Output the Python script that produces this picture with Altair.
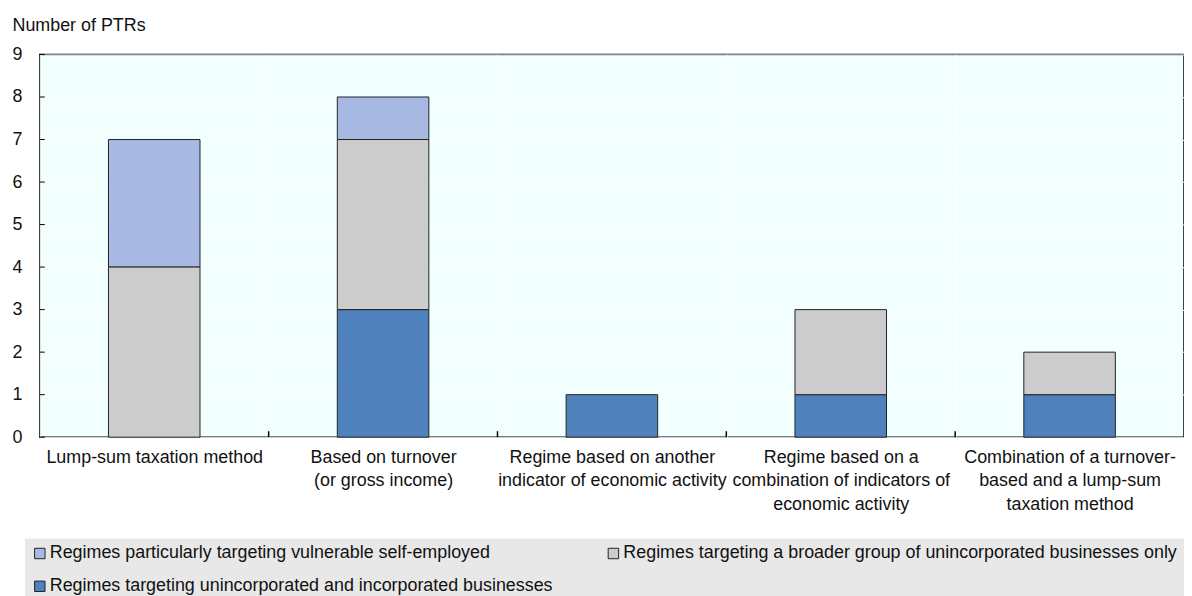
import altair as alt
import pandas as pd

categories = [
    "Lump-sum taxation method",
    "Based on turnover\n(or gross income)",
    "Regime based on another\nindicator of economic activity",
    "Regime based on a\ncombination of indicators of\neconomic activity",
    "Combination of a turnover-\nbased and a lump-sum\ntaxation method",
]
series = [
    "Regimes particularly targeting vulnerable self-employed",
    "Regimes targeting unincorporated and incorporated businesses",
    "Regimes targeting a broader group of unincorporated businesses only",
]
vulnerable = [3, 1, 0, 0, 0]
incorporated = [0, 3, 1, 1, 1]
broader = [4, 4, 0, 2, 1]
colors = ["#A7B9E3", "#4F81BD", "#CCCCCC"]
stack_rank = [2, 0, 1]
y_ticks = list(range(10))
boundaries = [1, 2, 3, 4]

FONT = "Liberation Sans, Arial, sans-serif"
FS = 18

rows = []
for s, vals, r in zip(series, [vulnerable, incorporated, broader], stack_rank):
    for c, v in zip(categories, vals):
        if v > 0:
            rows.append({"category": c, "series": s, "value": v, "rank": r})
df = pd.DataFrame(rows)

bars = alt.Chart(df).mark_bar(
    stroke="#222222", strokeWidth=1, width=alt.RelativeBandSize(0.4)
).encode(
    x=alt.X(
        "category:N",
        sort=categories,
        scale=alt.Scale(paddingInner=0, paddingOuter=0),
        axis=alt.Axis(
            title=None, labelAngle=0, labelExpr="split(datum.label, '\\n')",
            tickSize=0, domain=False, grid=True, tickBand="extent",
            gridColor="white", gridWidth=1, labelPadding=11,
            labelBaseline="top", labelLineHeight=24, labelLimit=0,
            labelOverlap=False,
            labelFont=FONT, labelFontSize=FS, labelColor="#111111",
        ),
    ),
    y=alt.Y(
        "value:Q",
        stack="zero",
        scale=alt.Scale(domain=[0, 9], nice=False),
        axis=alt.Axis(
            values=y_ticks, title="Number of PTRs", titleAngle=0,
            titleAlign="left", titleBaseline="bottom", titleX=-28, titleY=-20,
            titleFontWeight="normal", titleFontSize=FS, titleFont=FONT,
            titleColor="#111111",
            tickSize=0, domain=False, labelPadding=18, grid=True,
            gridColor="white", gridWidth=1,
            labelFont=FONT, labelFontSize=FS, labelColor="#111111",
        ),
    ),
    color=alt.Color(
        "series:N",
        scale=alt.Scale(domain=series, range=colors),
        legend=alt.Legend(
            title=None, orient="none", legendX=-15, legendY=487, columns=2,
            fillColor="#E8E8E8", padding=6, symbolType="square",
            symbolSize=110, symbolStrokeColor="#222222", symbolStrokeWidth=1,
            labelFontSize=FS, labelFont=FONT, labelColor="#111111",
            rowPadding=15, columnPadding=51, labelLimit=0, labelOffset=1,
        ),
    ),
    order=alt.Order("rank:Q", sort="ascending"),
)

yticks = alt.Chart(pd.DataFrame({"t": y_ticks})).mark_rule(
    color="black", strokeWidth=1
).encode(y="t:Q", x=alt.value(0), x2=alt.value(5))

xticks = alt.Chart(pd.DataFrame({"b": boundaries})).mark_rule(
    color="black", strokeWidth=1.5
).encode(
    x=alt.X("b:Q", scale=alt.Scale(domain=[0, 5], nice=False), axis=None),
    y=alt.value(385), y2=alt.value(379),
)

chart = alt.layer(bars, yticks, xticks).resolve_scale(x="independent").properties(
    width=1151, height=385,
    padding={"left": 32, "top": 45, "right": 0, "bottom": 158},
    autosize=alt.AutoSizeParams(type="none"),
    background="white",
).configure_view(
    fill="#F2FFFF", stroke="black", strokeWidth=1.5
)

chart.save("out.html", embed_options={"renderer": "svg", "actions": False})
